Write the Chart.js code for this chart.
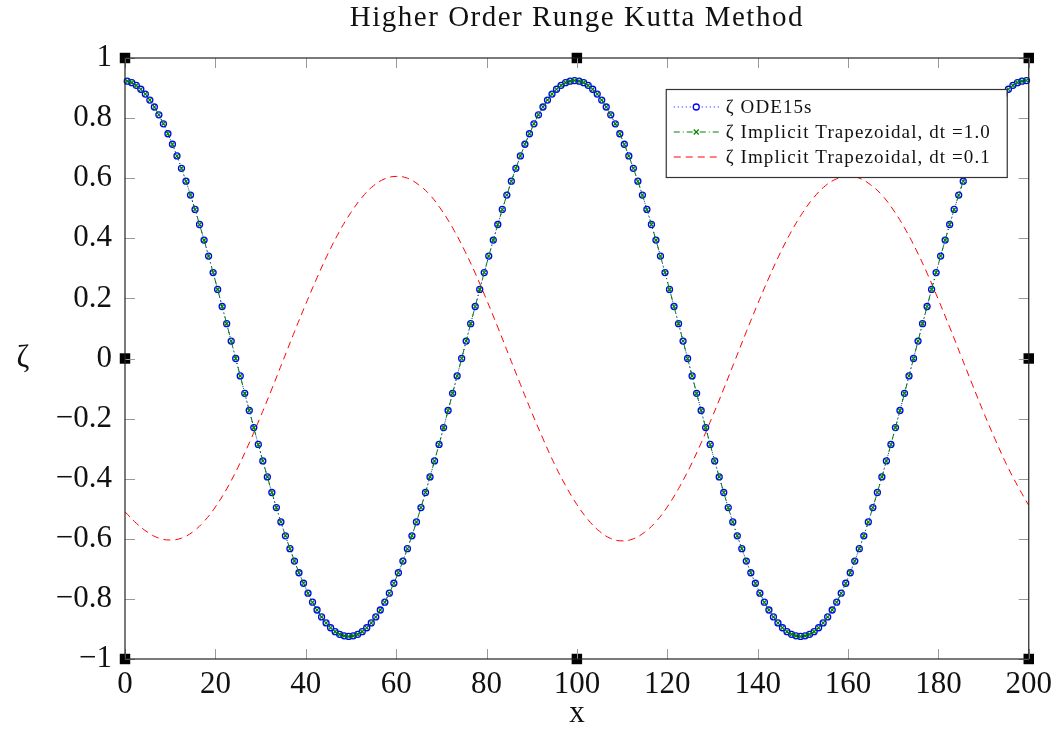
<!DOCTYPE html>
<html><head><meta charset="utf-8">
<script src="https://cdn.jsdelivr.net/npm/chart.js@4/dist/chart.umd.min.js"></script>
<style>html,body{margin:0;padding:0;background:#fff;}canvas{display:block;}</style>
</head><body>
<canvas id="c" width="1059" height="733" style="width:1059px;height:733px"></canvas>
<script>
const titleText = 'Higher Order Runge Kutta Method';
const xAxisLabel = 'x';
const yAxisLabel = 'ζ';
const seriesLabels = ['ζ ODE15s', 'ζ Implicit Trapezoidal, dt =1.0', 'ζ Implicit Trapezoidal, dt =0.1'];
const xTicks = [0, 20, 40, 60, 80, 100, 120, 140, 160, 180, 200];
const yTicks = [-1, -0.8, -0.6, -0.4, -0.2, 0, 0.2, 0.4, 0.6, 0.8, 1];

// ODE15s / trapezoidal dt=1.0 samples: x = odeX0 + i*odeDx
const odeX0 = 0.5, odeDx = 1;
const zetaODE15s = [
 0.923,0.918,0.909,0.896,0.880,0.860,0.837,0.811,0.781,0.748,0.713,0.674,0.633,0.590,0.544,0.496,0.446,0.394,0.341,0.286,0.230,0.173,0.116,0.058,0.000,
 -0.058,-0.116,-0.173,-0.230,-0.286,-0.341,-0.394,-0.446,-0.496,-0.544,-0.590,-0.633,-0.674,-0.713,-0.748,-0.781,-0.811,-0.837,-0.860,-0.880,-0.896,-0.909,-0.918,-0.923,-0.925,
 -0.923,-0.918,-0.909,-0.896,-0.880,-0.860,-0.837,-0.811,-0.781,-0.748,-0.713,-0.674,-0.633,-0.590,-0.544,-0.496,-0.446,-0.394,-0.341,-0.286,-0.230,-0.173,-0.116,-0.058,0.000,
 0.058,0.116,0.173,0.230,0.286,0.341,0.394,0.446,0.496,0.544,0.590,0.633,0.674,0.713,0.748,0.781,0.811,0.837,0.860,0.880,0.896,0.909,0.918,0.923,0.925,
 0.923,0.918,0.909,0.896,0.880,0.860,0.837,0.811,0.781,0.748,0.713,0.674,0.633,0.590,0.544,0.496,0.446,0.394,0.341,0.286,0.230,0.173,0.116,0.058,0.000,
 -0.058,-0.116,-0.173,-0.230,-0.286,-0.341,-0.394,-0.446,-0.496,-0.544,-0.590,-0.633,-0.674,-0.713,-0.748,-0.781,-0.811,-0.837,-0.860,-0.880,-0.896,-0.909,-0.918,-0.923,-0.925,
 -0.923,-0.918,-0.909,-0.896,-0.880,-0.860,-0.837,-0.811,-0.781,-0.748,-0.713,-0.674,-0.633,-0.590,-0.544,-0.496,-0.446,-0.394,-0.341,-0.286,-0.230,-0.173,-0.116,-0.058,0.000,
 0.058,0.116,0.173,0.230,0.286,0.341,0.394,0.446,0.496,0.544,0.590,0.633,0.674,0.713,0.748,0.781,0.811,0.837,0.860,0.880,0.896,0.909,0.918,0.923,0.925
];
const zetaTrapDt1 = [
 0.923,0.918,0.909,0.896,0.880,0.860,0.837,0.811,0.781,0.748,0.713,0.674,0.633,0.590,0.544,0.496,0.446,0.394,0.341,0.286,0.230,0.173,0.116,0.058,0.000,
 -0.058,-0.116,-0.173,-0.230,-0.286,-0.341,-0.394,-0.446,-0.496,-0.544,-0.590,-0.633,-0.674,-0.713,-0.748,-0.781,-0.811,-0.837,-0.860,-0.880,-0.896,-0.909,-0.918,-0.923,-0.925,
 -0.923,-0.918,-0.909,-0.896,-0.880,-0.860,-0.837,-0.811,-0.781,-0.748,-0.713,-0.674,-0.633,-0.590,-0.544,-0.496,-0.446,-0.394,-0.341,-0.286,-0.230,-0.173,-0.116,-0.058,0.000,
 0.058,0.116,0.173,0.230,0.286,0.341,0.394,0.446,0.496,0.544,0.590,0.633,0.674,0.713,0.748,0.781,0.811,0.837,0.860,0.880,0.896,0.909,0.918,0.923,0.925,
 0.923,0.918,0.909,0.896,0.880,0.860,0.837,0.811,0.781,0.748,0.713,0.674,0.633,0.590,0.544,0.496,0.446,0.394,0.341,0.286,0.230,0.173,0.116,0.058,0.000,
 -0.058,-0.116,-0.173,-0.230,-0.286,-0.341,-0.394,-0.446,-0.496,-0.544,-0.590,-0.633,-0.674,-0.713,-0.748,-0.781,-0.811,-0.837,-0.860,-0.880,-0.896,-0.909,-0.918,-0.923,-0.925,
 -0.923,-0.918,-0.909,-0.896,-0.880,-0.860,-0.837,-0.811,-0.781,-0.748,-0.713,-0.674,-0.633,-0.590,-0.544,-0.496,-0.446,-0.394,-0.341,-0.286,-0.230,-0.173,-0.116,-0.058,0.000,
 0.058,0.116,0.173,0.230,0.286,0.341,0.394,0.446,0.496,0.544,0.590,0.633,0.674,0.713,0.748,0.781,0.811,0.837,0.860,0.880,0.896,0.909,0.918,0.923,0.925
];

// Trapezoidal dt=0.1 curve, read every 2.5 units: x = fineX0 + i*fineDx
const fineX0 = 0, fineDx = 2.5;
const zetaTrapDt01 = [
 -0.510,-0.548,-0.578,-0.598,-0.604,-0.598,-0.577,-0.542,-0.494,-0.434,-0.362,-0.281,-0.193,-0.101,-0.006,0.089,0.181,0.269,0.351,0.424,
 0.486,0.537,0.575,0.598,0.606,0.600,0.578,0.544,0.495,0.435,0.364,0.284,0.196,0.104,0.009,-0.086,-0.179,-0.267,-0.350,-0.423,
 -0.486,-0.537,-0.575,-0.599,-0.607,-0.600,-0.578,-0.543,-0.494,-0.433,-0.362,-0.281,-0.193,-0.101,-0.006,0.089,0.181,0.269,0.351,0.424,
 0.486,0.537,0.575,0.598,0.606,0.600,0.578,0.544,0.495,0.435,0.364,0.284,0.196,0.104,0.009,-0.086,-0.179,-0.267,-0.350,-0.423,
 -0.489
];

// black square markers
const markerX = [0, 100, 200, 0, 200, 0, 100, 200];
const markerY = [1, 1, 1, 0, 0, -1, -1, -1];

const SERIF = '"Liberation Serif", "DejaVu Serif", serif';
const fmt = v => {
  if (Math.abs(v) < 1e-9) return '0';
  const s = String(+Number(v).toFixed(1));
  return s.replace('-', '\u2212');
};
const toXY = (x0, dx, ys) => ys.map((y, i) => ({x: x0 + i * dx, y}));

const styles = [
  {color: '#0000ff', dash: [1, 3], point: 'circle'},
  {color: '#008000', dash: [6, 3, 1, 3], point: 'crossRot'},
  {color: '#ff0000', dash: [7, 5], point: null}
];

const decor = {
  id: 'decor',
  afterDatasetsDraw(chart) {
    const ctx = chart.ctx, a = chart.chartArea;
    const xs = chart.scales.x, ys = chart.scales.y;
    ctx.save();
    ctx.strokeStyle = '#9a9a9a'; ctx.lineWidth = 1;
    const tl = 10;
    ctx.beginPath();
    xTicks.forEach(v => {
      const px = Math.round(xs.getPixelForValue(v)) + 0.5;
      ctx.moveTo(px, a.bottom); ctx.lineTo(px, a.bottom - tl);
      ctx.moveTo(px, a.top); ctx.lineTo(px, a.top + tl);
    });
    yTicks.forEach(v => {
      const py = Math.round(ys.getPixelForValue(v)) + 0.5;
      ctx.moveTo(a.left, py); ctx.lineTo(a.left + tl, py);
      ctx.moveTo(a.right, py); ctx.lineTo(a.right - tl, py);
    });
    ctx.stroke();
    ctx.strokeStyle = '#222'; ctx.lineWidth = 1.2;
    ctx.strokeRect(a.left, a.top, a.right - a.left, a.bottom - a.top);
    ctx.restore();
  },
  afterDraw(chart) {
    const ctx = chart.ctx, a = chart.chartArea;
    ctx.save();
    ctx.fillStyle = '#111';
    ctx.textAlign = 'center';
    ctx.textBaseline = 'alphabetic';
    const cx = (a.left + a.right) / 2;
    ctx.font = '29px ' + SERIF;
    ctx.letterSpacing = '1.5px';
    ctx.fillText(titleText, cx, 26);
    ctx.letterSpacing = '0px';
    ctx.font = '31px ' + SERIF;
    ctx.fillText(xAxisLabel, cx, 722);
    ctx.fillText(yAxisLabel, 23, 367);

    // legend
    const lx1 = a.right - 22, ly0 = a.top + 31, lw = 341, lh = 88;
    const lx0 = lx1 - lw;
    ctx.fillStyle = '#fff';
    ctx.fillRect(lx0, ly0, lw, lh);
    ctx.strokeStyle = '#333'; ctx.lineWidth = 1.2;
    ctx.strokeRect(lx0 + 0.5, ly0 + 0.5, lw, lh);
    const rows = [18, 43, 68];
    ctx.textAlign = 'left'; ctx.textBaseline = 'middle';
    ctx.font = '19px ' + SERIF;
    seriesLabels.forEach((lab, i) => {
      const y = ly0 + rows[i], st = styles[i];
      ctx.save();
      ctx.strokeStyle = st.color; ctx.lineWidth = 1;
      ctx.setLineDash(st.dash);
      ctx.beginPath(); ctx.moveTo(lx0 + 8, y); ctx.lineTo(lx0 + 53, y); ctx.stroke();
      ctx.setLineDash([]);
      const mx = lx0 + 30.5;
      if (st.point === 'circle') {
        ctx.fillStyle = '#fff';
        ctx.beginPath(); ctx.arc(mx, y, 3, 0, Math.PI * 2); ctx.fill(); ctx.lineWidth = 1.3; ctx.stroke();
      } else if (st.point === 'crossRot') {
        ctx.lineWidth = 1.2;
        ctx.beginPath(); ctx.moveTo(mx - 2.5, y - 2.5); ctx.lineTo(mx + 2.5, y + 2.5);
        ctx.moveTo(mx - 2.5, y + 2.5); ctx.lineTo(mx + 2.5, y - 2.5); ctx.stroke();
      }
      ctx.restore();
      ctx.fillStyle = '#111';
      ctx.letterSpacing = '1.1px';
      ctx.fillText(lab, lx0 + 60, y + 1);
      ctx.letterSpacing = '0px';
    });
    ctx.restore();
  }
};

new Chart(document.getElementById('c'), {
  type: 'scatter',
  data: {
    datasets: [
      {
        label: seriesLabels[1], data: toXY(odeX0, odeDx, zetaTrapDt1), showLine: true,
        borderColor: styles[1].color, borderWidth: 1, borderDash: styles[1].dash,
        pointStyle: 'crossRot', pointRadius: 3, pointBorderWidth: 1.2,
        pointBorderColor: styles[1].color, pointBackgroundColor: styles[1].color, order: 1, clip: 8
      },
      {
        label: seriesLabels[0], data: toXY(odeX0, odeDx, zetaODE15s), showLine: true,
        borderColor: styles[0].color, borderWidth: 1, borderDash: styles[0].dash,
        pointStyle: 'circle', pointRadius: 3, pointBorderWidth: 1.3,
        pointBorderColor: styles[0].color, pointBackgroundColor: 'rgba(255,255,255,0)', order: 2, clip: 8
      },
      {
        label: seriesLabels[2], data: toXY(fineX0, fineDx, zetaTrapDt01), showLine: true,
        borderColor: styles[2].color, borderWidth: 1, borderDash: styles[2].dash,
        pointRadius: 0, tension: 0.4, order: 3
      },
      {
        label: 'markers', data: markerX.map((x, i) => ({x, y: markerY[i]})),
        showLine: false, pointStyle: 'rect', pointRadius: 7.4, pointBorderWidth: 0,
        pointBackgroundColor: '#000', pointBorderColor: '#000', order: 0, clip: false
      }
    ]
  },
  options: {
    responsive: false, animation: false, devicePixelRatio: 1,
    layout: {padding: {top: 58, right: 28, left: 0, bottom: 0}},
    plugins: {legend: {display: false}, tooltip: {enabled: false}, title: {display: false}},
    scales: {
      x: {
        type: 'linear', min: 0, max: 200,
        afterBuildTicks: s => { s.ticks = xTicks.map(v => ({value: v})); },
        afterFit: s => { s.height = 74; },
        grid: {display: false, drawTicks: false}, border: {display: false},
        ticks: {callback: v => fmt(v), color: '#111', font: {family: SERIF, size: 31}, padding: 7, maxRotation: 0, autoSkip: false}
      },
      y: {
        type: 'linear', min: -1, max: 1,
        afterBuildTicks: s => { s.ticks = yTicks.map(v => ({value: v})); },
        afterFit: s => { s.width = 125; },
        grid: {display: false, drawTicks: false}, border: {display: false},
        ticks: {callback: v => fmt(v), color: '#111', font: {family: SERIF, size: 31}, padding: 13, autoSkip: false}
      }
    }
  },
  plugins: [decor]
});
</script>
</body></html>
